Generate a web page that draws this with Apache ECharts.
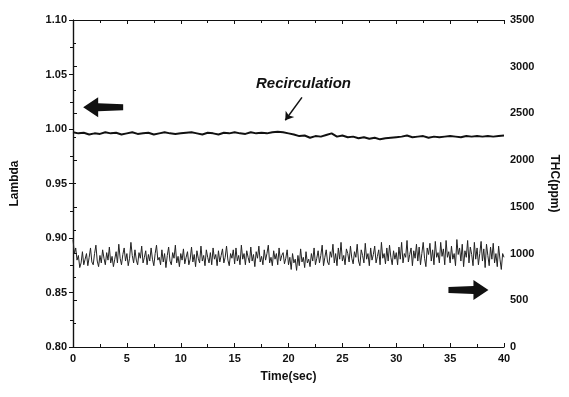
<!DOCTYPE html>
<html>
<head>
<meta charset="utf-8">
<script src="https://cdn.jsdelivr.net/npm/echarts@6/dist/echarts.min.js"></script>
<style>
  html, body { margin: 0; padding: 0; background: #fff; }
  #chart { width: 569px; height: 397px; }
</style>
</head>
<body>
<div id="chart"></div>
<script>
// lambda sampled every 0.5 s
var lambdaStep = 0.5;
var lambdaVals = [
  0.997, 0.996, 0.9965, 0.995, 0.996, 0.9955, 0.997, 0.996, 0.9965, 0.995,
  0.996, 0.997, 0.9955, 0.996, 0.9965, 0.995, 0.996, 0.997, 0.996, 0.9955,
  0.996, 0.9965, 0.997, 0.996, 0.995, 0.9965, 0.996, 0.995, 0.9965, 0.996,
  0.997, 0.996, 0.9955, 0.997, 0.996, 0.9965, 0.996, 0.997, 0.9975, 0.997,
  0.996, 0.995, 0.9935, 0.994, 0.992, 0.9935, 0.993, 0.9945, 0.996, 0.993,
  0.994, 0.9925, 0.993, 0.9915, 0.9925, 0.991, 0.992, 0.9905, 0.9915, 0.992,
  0.9925, 0.993, 0.994, 0.9925, 0.993, 0.9935, 0.992, 0.993, 0.9925, 0.993,
  0.9935, 0.993, 0.9925, 0.9935, 0.993, 0.9935, 0.993, 0.9935, 0.993, 0.9935,
  0.994
];

// THC (ppm) sampled every 0.125 s, one row = 2 s
var thcStep = 0.125;
var thcVals = [
  1150,1000,1060,930,980,850,900,1020,880,940,1000,870,960,1060,910,880,
  1000,1090,920,860,980,900,1040,950,880,1010,930,1070,900,970,860,940,
  1020,900,1100,950,880,990,1060,920,1000,870,950,1120,980,900,1040,930,
  880,1010,950,1080,900,960,1030,880,990,920,1060,940,870,1000,1090,930,
  960,880,1040,910,1000,850,980,1070,920,880,1010,950,1090,900,970,860,
  1000,930,1050,890,960,1020,880,940,1070,910,990,860,1030,950,900,1080,
  920,980,870,1040,960,900,1010,880,1060,940,990,870,1030,910,980,1050,
  900,960,1080,930,870,1000,950,1040,890,1060,920,980,880,1090,940,1000,
  880,1030,960,900,1070,920,990,860,1020,950,1080,910,970,880,1040,930,
  1000,1090,900,960,870,1030,940,1000,880,1060,920,980,1010,890,950,1040,
  880,960,830,1000,900,940,820,980,870,1050,910,960,850,1020,900,940,
  860,1000,920,1060,880,950,1030,900,980,1090,870,960,1040,910,880,1020,
  960,1100,900,1000,870,1060,940,1120,920,980,880,1050,1000,910,1080,950,
  890,1020,960,1100,920,870,1040,980,900,1110,940,1000,870,1060,930,990,
  1080,900,970,1040,880,1120,950,1000,890,1060,920,1090,960,880,1030,940,
  1010,880,1070,940,1120,900,1000,960,1140,910,990,1060,870,1030,950,1100,
  920,1070,880,1000,1120,950,860,1060,990,1110,920,1040,880,1130,960,1010,
  900,1120,970,1050,880,1140,960,1020,900,1080,940,1000,870,1150,990,1060,
  920,1100,860,1030,960,1140,900,1070,990,870,1120,940,1060,880,1000,1130,
  920,1050,850,1100,980,870,1070,940,1110,900,1000,860,1080,940,830,1000,
  960
];

function pairs(step, vals) {
  return vals.map(function (v, i) { return [+(i * step).toFixed(3), v]; });
}

var Chart = echarts.init(document.getElementById('chart'));

var fontF = 'Liberation Sans, Arial, sans-serif';
var arrowPath = 'path://M0,10 L15,0 L15,6 L40,7 L40,13 L15,14 L15,20 Z';

option = {
    backgroundColor: '#fff',
    animation: false,
    grid: { left: 73, right: 65, top: 20, bottom: 50 },
    xAxis: [
        {
            type: 'value', min: 0, max: 40, interval: 5,
            name: 'Time(sec)', nameLocation: 'middle', nameGap: 24,
            nameTextStyle: { fontFamily: fontF, fontWeight: 'bold', fontSize: 12, color: '#111' },
            axisLine: { lineStyle: { color: '#111', width: 1.2 } },
            axisTick: { inside: true, length: 4, lineStyle: { color: '#111' } },
            minorTick: { show: true, splitNumber: 2, length: 3, lineStyle: { color: '#111' } },
            axisLabel: { fontFamily: fontF, fontWeight: 'bold', fontSize: 11, color: '#111', margin: 6 },
            splitLine: { show: false }
        },
        {
            type: 'value', min: 0, max: 40, interval: 5, position: 'top',
            axisLine: { show: true, lineStyle: { color: '#111', width: 1.2 } },
            axisTick: { inside: true, length: 4, lineStyle: { color: '#111' } },
            minorTick: { show: true, splitNumber: 2, length: 3, lineStyle: { color: '#111' } },
            axisLabel: { show: false },
            splitLine: { show: false }
        }
    ],
    yAxis: [
        {
            type: 'value', min: 0.8, max: 1.1, interval: 0.05,
            name: 'Lambda', nameLocation: 'middle', nameGap: 52,
            nameTextStyle: { fontFamily: fontF, fontWeight: 'bold', fontSize: 12, color: '#111' },
            axisLine: { show: true, lineStyle: { color: '#111', width: 1.2 } },
            axisTick: { show: true, length: 4, lineStyle: { color: '#111' } },
            minorTick: { show: true, splitNumber: 2, length: 3, lineStyle: { color: '#111' } },
            axisLabel: {
                fontFamily: fontF, fontWeight: 'bold', fontSize: 11, color: '#111', margin: 6,
                formatter: function (v) { return v.toFixed(2); }
            },
            splitLine: { show: false }
        },
        {
            type: 'value', min: 0, max: 3500, interval: 500, position: 'right',
            name: 'THC(ppm)', nameLocation: 'middle', nameGap: 44, nameRotate: -90,
            nameTextStyle: { fontFamily: fontF, fontWeight: 'bold', fontSize: 12, color: '#111' },
            axisLine: { show: true, lineStyle: { color: '#111', width: 1.2 } },
            axisTick: { show: true, length: 4, lineStyle: { color: '#111' } },
            minorTick: { show: true, splitNumber: 2, length: 3, lineStyle: { color: '#111' } },
            axisLabel: {
                fontFamily: fontF, fontWeight: 'bold', fontSize: 11, color: '#111', margin: 6,
                formatter: function (v) { return String(v); }
            },
            splitLine: { show: false }
        }
    ],
    series: [
        {
            name: 'Lambda',
            type: 'line',
            xAxisIndex: 0, yAxisIndex: 0,
            data: pairs(lambdaStep, lambdaVals),
            showSymbol: false,
            lineStyle: { color: '#111', width: 2 },
            markPoint: {
                symbol: arrowPath,
                symbolSize: [40, 20],
                itemStyle: { color: '#111' },
                label: { show: false },
                data: [{ coord: [2.8, 1.02] }]
            },
            markLine: {
                silent: true,
                symbol: ['none', 'arrow'],
                symbolSize: 8,
                lineStyle: { color: '#111', width: 1.5, type: 'solid' },
                label: { show: false },
                data: [[{ coord: [21.25, 1.029] }, { coord: [19.7, 1.008] }]]
            }
        },
        {
            name: 'THC',
            type: 'line',
            xAxisIndex: 0, yAxisIndex: 1,
            data: pairs(thcStep, thcVals),
            showSymbol: false,
            lineStyle: { color: '#222', width: 1 },
            markPoint: {
                symbol: arrowPath,
                symbolSize: [40, 20],
                symbolRotate: 180,
                itemStyle: { color: '#111' },
                label: { show: false },
                data: [{ coord: [36.7, 610] }]
            }
        }
    ],
    graphic: [
        {
            type: 'text', left: 256, top: 76,
            style: {
                text: 'Recirculation', fill: '#111',
                font: 'italic bold 15px Liberation Sans, Arial, sans-serif'
            }
        }
    ]
};

Chart.setOption(option);
</script>
</body>
</html>
